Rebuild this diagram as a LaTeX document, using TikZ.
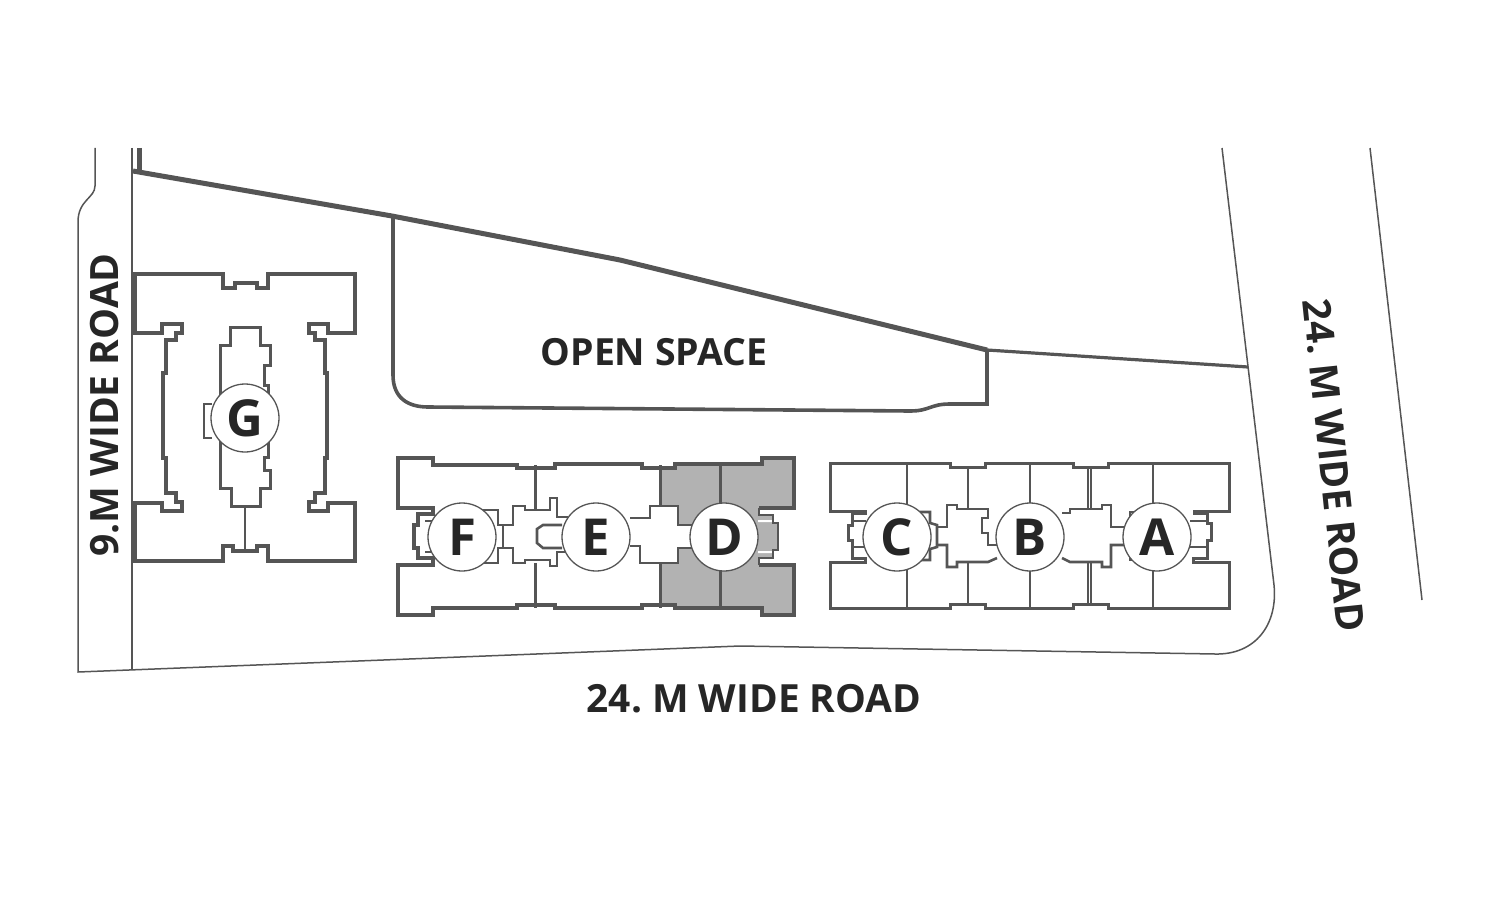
\documentclass[tikz,border=0pt]{standalone}
\usepackage{fontspec}
\setmainfont{Open Sans}
\definecolor{wallgrey}{RGB}{85,85,85}
\definecolor{flatgrey}{RGB}{178,178,178}
\definecolor{inkgrey}{RGB}{38,38,38}
\tikzset{%
    site/.style={draw=wallgrey,line width=0.15mm},
    boundary/.style={draw=wallgrey,line width=0.5mm},
    wall/.style={draw=wallgrey,line width=0.4mm},
    lightwall/.style={draw=wallgrey,line width=0.3mm},
    corewall/.style={draw=wallgrey,line width=0.26mm},
    partition/.style={draw=wallgrey,line width=0.14mm},
    tower/.style={%
        circle,draw=wallgrey,line width=0.13mm,fill=white,minimum size=6.8mm,inner sep=0pt,
        text=inkgrey,font=\fontsize{14.5}{14.5}\selectfont\bfseries
    },
    roadlabel/.style={text=inkgrey,inner sep=0pt,font=\fontsize{#1}{#1}\selectfont\bfseries}
}
\frenchspacing
\begin{document}
\begin{tikzpicture}[x=0.1mm,y=-0.1mm]
	\useasboundingbox (0,0) rectangle (1500,900);
	% roads
	\draw[site] (95,148) -- (95,186) .. controls (95,198) and (78,200) .. (78,222) -- (78,672)
		-- (740,646) -- (1215,654) .. controls (1255,655) and (1278,625) .. (1274,585) -- (1222,148);
	\draw[site] (1370,148) -- (1422,600);
	\draw[site] (132,148) -- (132,670);
	% plot and open space
	\draw[boundary] (139,148) -- (139,171);
	\draw[boundary] (133,171) -- (392,216) -- (620,260) -- (987,350);
	\draw[draw=wallgrey,line width=0.32mm] (987,350) -- (1248,367);
	\draw[draw=wallgrey,line width=0.36mm] (393,216) -- (393,375) .. controls (393,398) and (408,407) .. (428,407)
		-- (910,411) .. controls (930,411) and (930,404) .. (950,404) -- (987,404) -- (987,350);
	% block G
	\draw[wall] (135,274) -- (223,274) -- (223,288) -- (235,288) -- (235,283) -- (257,283) -- (257,288) -- (268,288)
		-- (268,274) -- (355,274) -- (355,333) -- (328,333) -- (328,324) -- (309,324) -- (309,333) -- (315,333)
		-- (315,340) -- (325,340) -- (325,373) -- (327,373) -- (327,458) -- (325,458) -- (325,493) -- (315,493)
		-- (315,502) -- (309,502) -- (309,511) -- (328,511) -- (328,503) -- (355,503) -- (355,561) -- (268,561)
		-- (268,546) -- (257,546) -- (257,551) -- (233,551) -- (233,546) -- (223,546) -- (223,561) -- (135,561)
		-- (135,503) -- (162,503) -- (162,511) -- (182,511) -- (182,502) -- (176,502) -- (176,493) -- (166,493)
		-- (166,458) -- (163,458) -- (163,373) -- (166,373) -- (166,340) -- (176,340) -- (176,333) -- (182,333)
		-- (182,324) -- (162,324) -- (162,333) -- (135,333) -- cycle;
	\draw[lightwall] (220,447) -- (220,488) -- (231,488) -- (231,506) -- (260,506) -- (260,488) -- (270,488)
		-- (270,470) -- (264,470) -- (264,457) -- (268,457) -- (268,385) -- (264,385) -- (264,365) -- (270,365)
		-- (270,345) -- (260,345) -- (260,327) -- (230,327) -- (230,345) -- (220,345) -- cycle;
	\draw[corewall] (212,404) -- (204,404) -- (204,438) -- (212,438);
	\draw[partition] (245,506) -- (245,550);
	% blocks F, E, D
	\fill[flatgrey] (660,468) -- (675,468) -- (675,464) -- (762,464) -- (762,458) -- (794,458) -- (794,508) -- (759,508)
		-- (759,515) -- (773,515) -- (773,523) -- (778,523) -- (778,550) -- (773,550) -- (773,558) -- (759,558)
		-- (759,565) -- (794,565) -- (794,615) -- (762,615) -- (762,608) -- (675,608) -- (675,605) -- (660,605) -- cycle;
	\fill[white] (660,506) -- (678,506) -- (678,525) -- (692,525) -- (692,548) -- (678,548) -- (678,563) -- (660,563) -- cycle;
	\fill[white] (758,520) rectangle (776,522) (758,551) rectangle (776,553);
	\draw[wall] (759,508) -- (794,508) -- (794,458) -- (762,458) -- (762,464) -- (675,464) -- (675,468)
		-- (642,468) -- (642,464) -- (555,464) -- (555,468) -- (517,468) -- (517,465) -- (433,465) -- (433,458)
		-- (398,458) -- (398,508) -- (433,508) -- (433,514) -- (418,514) -- (418,525) -- (414,525) -- (414,548)
		-- (418,548) -- (418,558) -- (433,558) -- (433,565) -- (398,565) -- (398,615) -- (433,615) -- (433,608)
		-- (517,608) -- (517,605) -- (555,605) -- (555,608) -- (642,608) -- (642,605) -- (675,605) -- (675,608)
		-- (762,608) -- (762,615) -- (794,615) -- (794,565) -- (759,565);
	\draw[corewall] (759,508) -- (759,515) -- (773,515) -- (773,523) -- (778,523) -- (778,550) -- (773,550) -- (773,558)
		-- (759,558) -- (759,565);
	\draw[corewall] (630,518) -- (650,518) -- (650,506) -- (678,506) -- (678,525) -- (692,525);
	\draw[corewall] (630,546) -- (640,546) -- (640,563) -- (678,563) -- (678,548) -- (692,548);
	\draw[lightwall] (660,465) -- (660,506) (660,563) -- (660,608);
	\draw[lightwall] (720,465) -- (720,505) (720,568) -- (720,608);
	\draw[lightwall] (535,465) -- (535,510) (535,563) -- (535,608);
	\draw[corewall] (500,525) -- (513,525) -- (513,506) -- (525,506) -- (525,510) -- (550,510) -- (550,498)
		-- (557,498) -- (557,517) -- (568,517);
	\draw[corewall] (500,548) -- (513,548) -- (513,563) -- (525,563) -- (525,560) -- (550,560) -- (550,566)
		-- (557,566) -- (557,552) -- (568,552);
	\draw[corewall] (562,525) -- (543,525) -- (537,529) -- (537,543) -- (543,548) -- (562,548);
	\draw[corewall] (480,510) -- (498,510) -- (498,525) -- (503,525) -- (503,548) -- (498,548) -- (498,563) -- (480,563);
	\draw[partition] (425,521) -- (445,521) (425,552) -- (445,552);
	% blocks C, B, A
	\draw[lightwall] (830,463) -- (950,463) -- (950,467) -- (985,467) -- (985,463) -- (1073,463) -- (1073,467) -- (1108,467)
		-- (1108,463) -- (1229,463) -- (1229,511) -- (1194,511) -- (1194,513) -- (1207,513) -- (1207,523)
		-- (1211,523) -- (1211,540) -- (1207,540) -- (1207,558) -- (1193,558) -- (1193,562) -- (1229,562)
		-- (1229,608) -- (1108,608) -- (1108,604) -- (1073,604) -- (1073,608) -- (985,608) -- (985,604) -- (950,604)
		-- (950,608) -- (830,608) -- (830,562) -- (865,562) -- (865,558) -- (852,558) -- (852,540) -- (848,540)
		-- (848,525) -- (852,525) -- (852,513) -- (865,513) -- (865,511) -- (830,511) -- cycle;
	\draw[corewall] (938,527) -- (947,527) -- (947,505) -- (957,505) -- (957,509) -- (988,509) -- (988,518)
		-- (982,518) -- (982,533) -- (988,533) -- (988,545) -- (997,545);
	\draw[corewall] (938,545) -- (947,545) -- (947,567) -- (957,567) -- (957,562) -- (988,562) -- (997,558);
	\draw[corewall] (1062,513) -- (1070,513) -- (1070,509) -- (1102,509) -- (1102,505) -- (1111,505)
		-- (1111,527) -- (1124,527);
	\draw[corewall] (1062,558) -- (1070,562) -- (1102,562) -- (1102,567) -- (1111,567) -- (1111,545) -- (1124,545);
	\draw[corewall] (920,512) -- (930,512) -- (930,523) -- (937,525) -- (937,547) -- (930,549) -- (930,560) -- (920,560);
	\draw[corewall] (1135,512) -- (1130,512) -- (1130,520) (1135,560) -- (1130,560) -- (1130,552);
	\draw[partition] (853,521) -- (866,521) (853,547) -- (866,547) (1190,521) -- (1207,521) (1190,547) -- (1207,547);
	\draw[partition] (907,463) -- (907,505) (907,570) -- (907,608);
	\draw[partition] (968,467) -- (968,509) (968,563) -- (968,604);
	\draw[partition] (1030,463) -- (1030,505) (1030,570) -- (1030,608);
	\draw[partition] (1088,467) -- (1088,509) (1088,563) -- (1088,604);
	\draw[partition] (1091,467) -- (1091,509) (1091,563) -- (1091,604);
	\draw[partition] (1153,463) -- (1153,505) (1153,570) -- (1153,608);
	% tower markers
	\node[tower] (towerG) at (245,418) {G};
	\node[tower] (towerF) at (462,537) {F};
	\node[tower] (towerE) at (596,537) {E};
	\node[tower] (towerD) at (724,537) {D};
	\node[tower] (towerC) at (897,537) {C};
	\node[tower] (towerB) at (1030,537) {B};
	\node[tower] (towerA) at (1157,537) {A};
	% labels
	\node[roadlabel=10.65] (openspace) at (654,352) {OPEN SPACE};
	\node[roadlabel=11.05] (roadsouth) at (754,699) {24. M WIDE ROAD};
	\node[roadlabel=11.1,rotate=90] (roadwest) at (105,405) {9.M WIDE ROAD};
	\node[roadlabel=11.05,rotate=-84] (roadeast) at (1334,465) {24. M WIDE ROAD};
\end{tikzpicture}
\end{document}
